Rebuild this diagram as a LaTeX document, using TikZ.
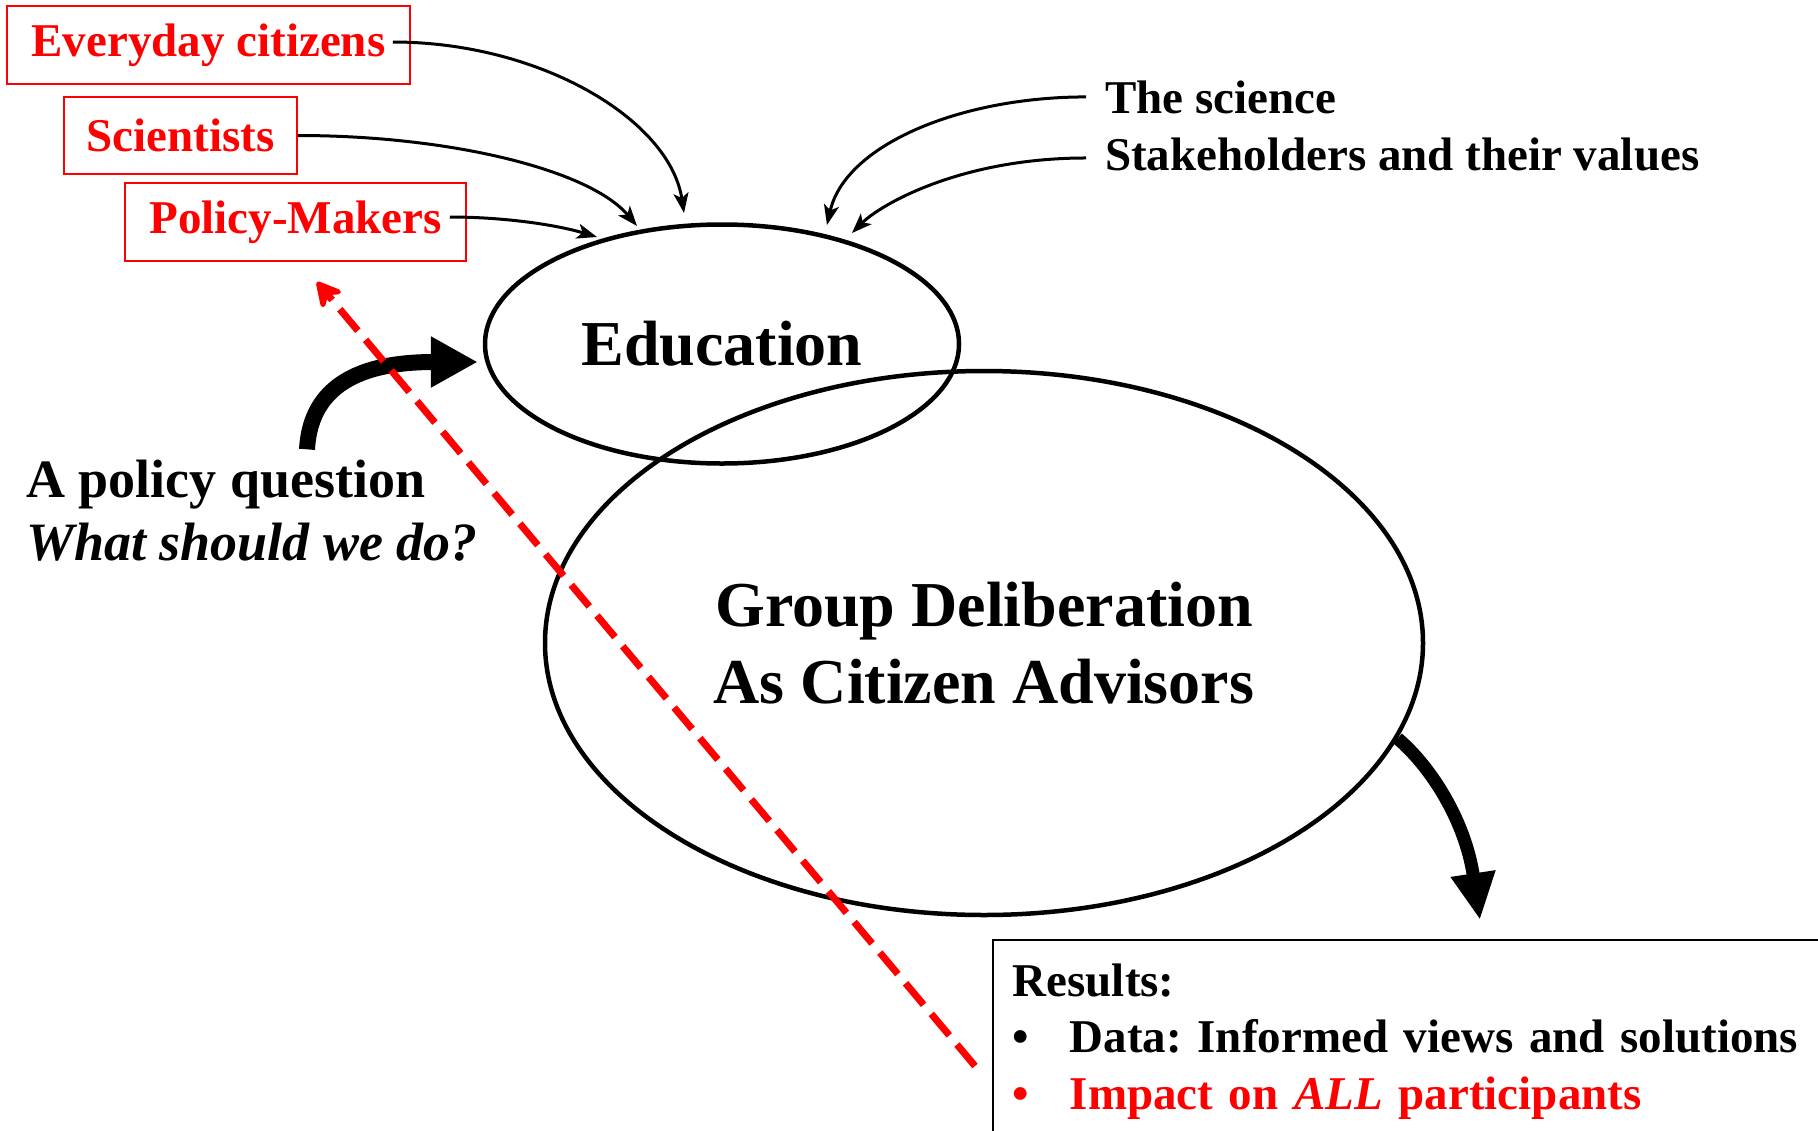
\documentclass[tikz,border=0pt]{standalone}
\usepackage{fontspec}
\setmainfont{Liberation Serif}
\usepackage{xcolor}
\usepackage{tikz}
\usetikzlibrary{arrows.meta,shapes.geometric}
\definecolor{actor-color}{RGB}{255, 0, 0}
\frenchspacing

\begin{document}
\begin{tikzpicture}[
    x=1pt, y=-1pt,
    actor/.style={rectangle,draw=actor-color,line width=1.5pt,text=actor-color,inner sep=0pt,font=\bfseries\fontsize{47}{56}\selectfont},
    feed/.style={line width=3pt,-{Stealth[length=20pt,width=15pt,inset=5pt]}},
    stage/.style={ellipse,draw,line width=4.5pt,inner sep=0pt,align=center,font=\bfseries\fontsize{64}{77}\selectfont},
    input/.style={anchor=base west,inner sep=0pt,font=\bfseries\fontsize{47}{56}\selectfont}
]
\useasboundingbox (0,0) rectangle (1818,1130);

\node[actor,minimum width=403pt,minimum height=78pt] (citizens) at (208.5,45) {Everyday citizens};
\node[actor,minimum width=233pt,minimum height=77pt] (scientists) at (180.5,135.5) {Scientists};
\node[actor,minimum width=341pt,minimum height=78pt] (makers) at (295.5,222) {Policy-Makers};

\node[stage,minimum width=474pt,minimum height=239pt] (educ) at (722,344) {Education};
\node[stage,minimum width=878pt,minimum height=544pt] (delib) at (984,643) {Group Deliberation\\As Citizen Advisors};

\node[input] (science) at (1105,113) {The science};
\node[input] (stake) at (1105,170) {Stakeholders and their values};

\node[anchor=base west,inner sep=0pt,align=left,font=\bfseries\fontsize{54}{63}\selectfont] (question) at (26,560)
    {A policy question\\\textit{What should we do?}};

\node[draw,line width=1.5pt,anchor=north west,inner xsep=20pt,inner ysep=24pt,text width=860pt,align=left,
      font=\bfseries\fontsize{47}{56.5}\selectfont] (results) at (992,939)
    {Results:\\
     \makebox[57pt][l]{\textbullet}Data: Informed views and solutions\\
     \textcolor{actor-color}{\makebox[57pt][l]{\textbullet}Impact on \textit{ALL} participants}};

\coordinate (tipcit) at (684,213);
\coordinate (tipsci) at (637,226);
\coordinate (tipmak) at (597,237);
\coordinate (tipsc) at (827,225);
\coordinate (tipst) at (852,233);
\coordinate (outtip) at (1480,920);
\coordinate (impactend) at (975,1066);
\coordinate (makertip) at (317,282);

\draw[feed] ([xshift=-18pt,yshift=3pt]citizens.east) .. controls +(148,0) and +(-14,-93) .. (tipcit);
\draw[feed] (scientists.east) .. controls +(153,0) and +(-47,-56) .. (tipsci);
\draw[feed] ([xshift=-17pt,yshift=5pt]makers.east) .. controls +(55,0) and +(-40,-12) .. (tipmak);
\draw[feed] ([xshift=-19pt]science.west) .. controls +(-126,0) and +(18,-80) .. (tipsc);
\draw[feed] ([xshift=-19pt,yshift=-4pt]stake.west) .. controls +(-126,0) and +(28,-28) .. (tipst);

\draw[line width=16pt,-{Triangle[length=47pt,width=48pt]}] ([xshift=55pt,yshift=10pt]question.north)
    .. controls +(3,-55) and +(-130,0) .. ([xshift=-5pt,yshift=-18pt]educ.west);
\draw[line width=13pt,-{Triangle[length=47pt,width=42pt]}] (delib.-13.6)
    .. controls +(33,28) and +(-15,-100) .. (outtip);

\draw[actor-color,line width=7pt,dash pattern=on 28pt off 12pt,-{Stealth[round,length=32pt,width=34pt,inset=12pt]}]
    (impactend) -- (makertip);
\end{tikzpicture}
\end{document}
